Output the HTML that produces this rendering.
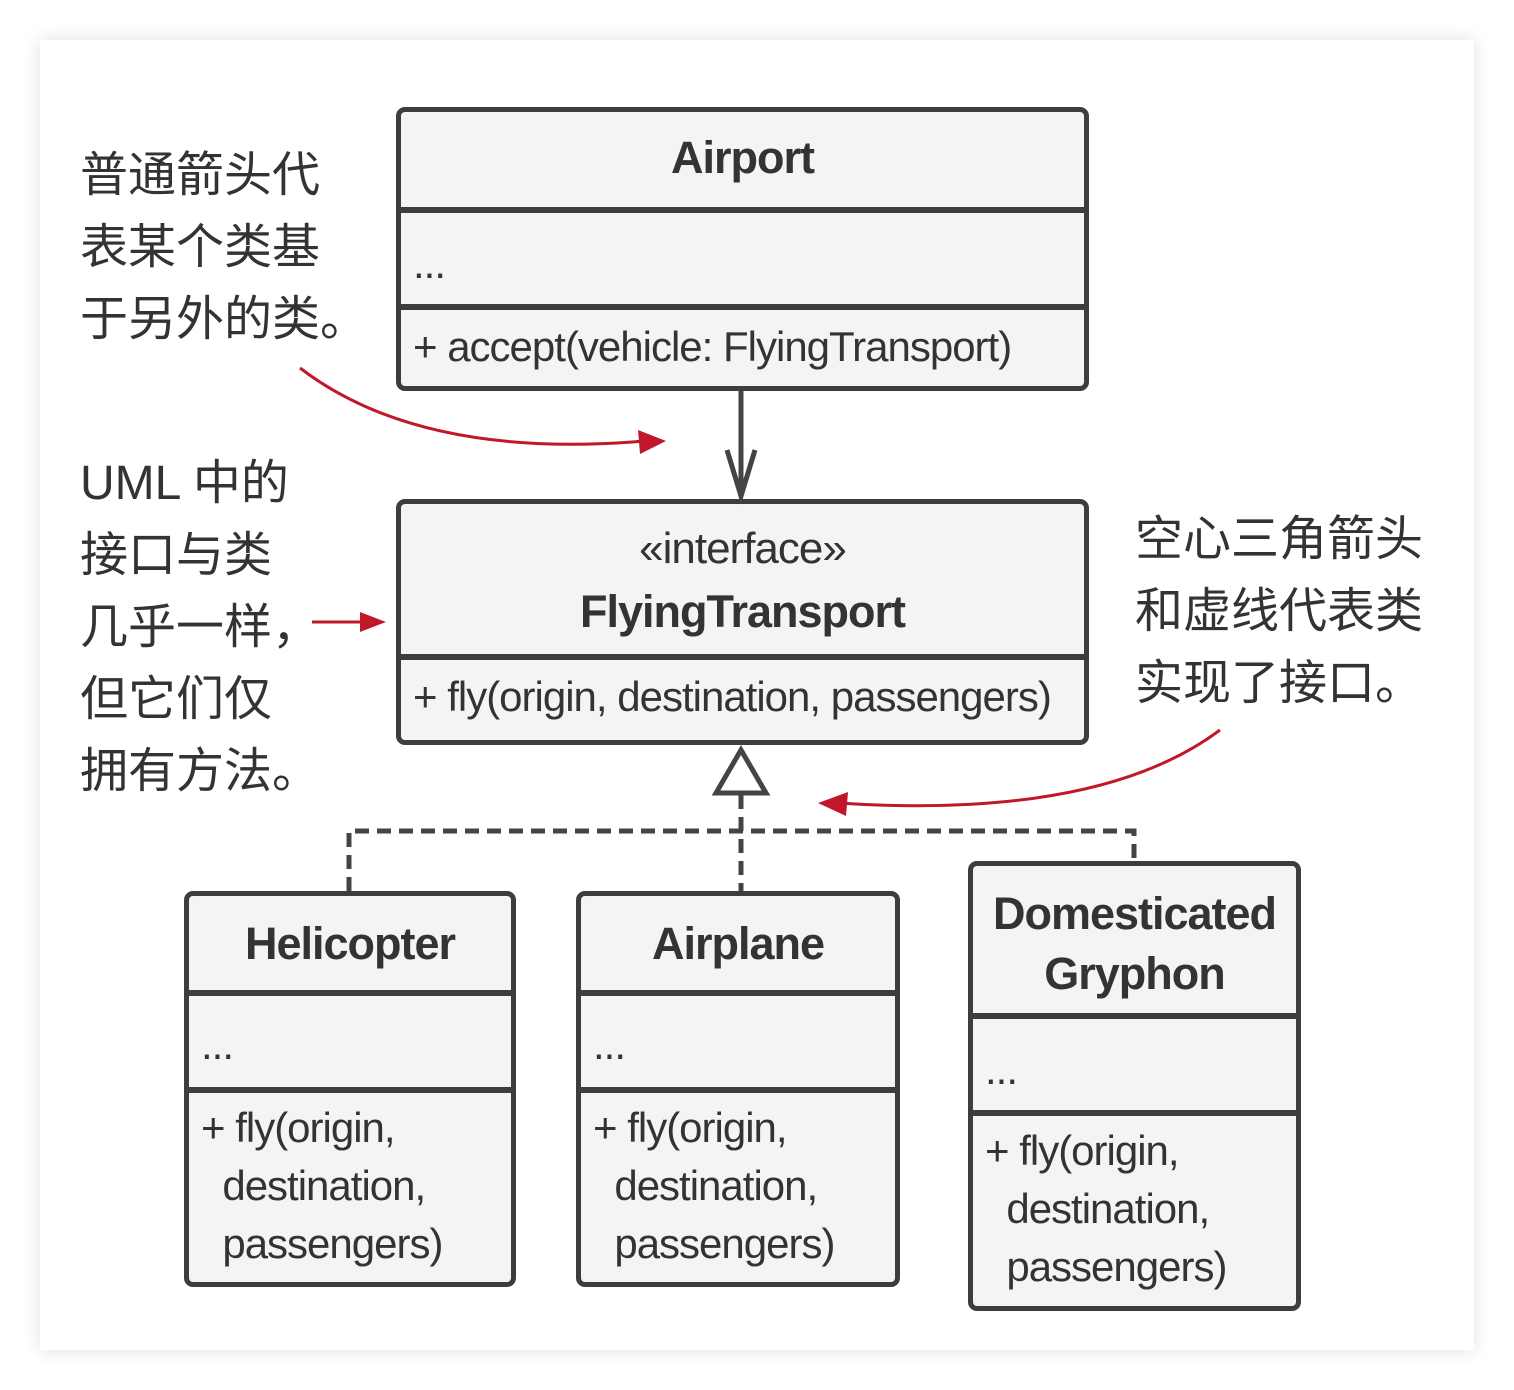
<!DOCTYPE html>
<html><head><meta charset="utf-8"><style>
body{margin:0;width:1514px;height:1390px;background:#fff;position:relative;overflow:hidden;font-family:"Liberation Sans","Noto Sans CJK SC",sans-serif;color:#333}
.card{position:absolute;left:40px;top:40px;width:1434px;height:1310px;background:#fff;box-shadow:0 0 18px rgba(0,0,0,0.12)}
.box{position:absolute;border:5px solid #3d3d3d;border-radius:9px;background:#f4f4f4;box-sizing:border-box;overflow:hidden}
.sec{position:absolute;left:0;right:0;box-sizing:border-box;border-top:6px solid #3d3d3d}
.t{font-weight:bold;font-size:45px;text-align:center;letter-spacing:-1px}
.m{font-size:42px;letter-spacing:-1px;position:absolute;left:12px;line-height:58px;white-space:nowrap}
.cn{position:absolute;font-size:48px;line-height:72px;color:#333}
</style></head><body>
<div class="card"></div>

<div class="box" style="left:396px;top:107px;width:693px;height:284px">
 <div class="t" style="position:absolute;left:0;right:0;top:20px">Airport</div>
 <div class="sec" style="top:95px;height:97px"><div class="m" style="top:22px">...</div></div>
 <div class="sec" style="top:192px;bottom:0"><div class="m" style="top:8px">+ accept(vehicle: FlyingTransport)</div></div>
</div>

<div class="box" style="left:396px;top:499px;width:693px;height:246px">
 <div style="position:absolute;left:0;right:0;top:20px;text-align:center;font-size:44px;letter-spacing:-1px">«interface»</div>
 <div class="t" style="position:absolute;left:0;right:0;top:82px">FlyingTransport</div>
 <div class="sec" style="top:150px;bottom:0"><div class="m" style="top:8px">+ fly(origin, destination, passengers)</div></div>
</div>

<div class="box" style="left:184px;top:891px;width:332px;height:396px">
 <div class="t" style="position:absolute;left:0;right:0;top:22px">Helicopter</div>
 <div class="sec" style="top:94px;height:97px"><div class="m" style="top:20px">...</div></div>
 <div class="sec" style="top:191px;bottom:0"><div class="m" style="top:6px">+ fly(origin,<br>&nbsp;&nbsp;destination,<br>&nbsp;&nbsp;passengers)</div></div>
</div>

<div class="box" style="left:576px;top:891px;width:324px;height:396px">
 <div class="t" style="position:absolute;left:0;right:0;top:22px">Airplane</div>
 <div class="sec" style="top:94px;height:97px"><div class="m" style="top:20px">...</div></div>
 <div class="sec" style="top:191px;bottom:0"><div class="m" style="top:6px">+ fly(origin,<br>&nbsp;&nbsp;destination,<br>&nbsp;&nbsp;passengers)</div></div>
</div>

<div class="box" style="left:968px;top:861px;width:333px;height:450px">
 <div class="t" style="position:absolute;left:0;right:0;top:18px;line-height:60px">Domesticated<br>Gryphon</div>
 <div class="sec" style="top:147px;height:97px"><div class="m" style="top:22px">...</div></div>
 <div class="sec" style="top:244px;bottom:0"><div class="m" style="top:6px">+ fly(origin,<br>&nbsp;&nbsp;destination,<br>&nbsp;&nbsp;passengers)</div></div>
</div>

<div class="cn" style="left:80px;top:140px">普通箭头代<br>表某个类基<br>于另外的类。</div>
<div class="cn" style="left:80px;top:448px">UML 中的<br>接口与类<br>几乎一样，<br>但它们仅<br>拥有方法。</div>
<div class="cn" style="left:1135px;top:504px">空心三角箭头<br>和虚线代表类<br>实现了接口。</div>

<svg width="1514" height="1390" style="position:absolute;left:0;top:0">
 <g stroke="#444" stroke-width="5" fill="none">
  <line x1="741" y1="390" x2="741" y2="496"/>
  <polyline points="727,450 741,496 755,450"/>
  <polygon points="741,750 716,793 766,793"/>
  <g stroke-dasharray="14,8">
   <line x1="741" y1="795" x2="741" y2="891"/>
   <polyline points="349,891 349,831 1134,831 1134,861"/>
  </g>
 </g>
 <g stroke="#c0182a" stroke-width="3" fill="none">
  <path d="M300,368 Q420,460 645,441"/>
  <line x1="312" y1="622" x2="370" y2="622"/>
  <path d="M1220,730 Q1100,820 838,803"/>
 </g>
 <g fill="#c0182a">
  <polygon points="666,441 638,430 640,454"/>
  <polygon points="386,622 360,612 360,632"/>
  <polygon points="818,803 848,792 846,816"/>
 </g>
</svg>
</body></html>
